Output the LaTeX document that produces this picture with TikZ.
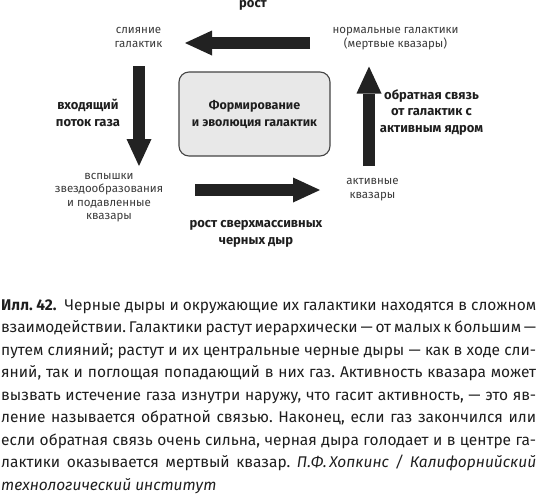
\documentclass[tikz,border=0pt]{standalone}
\usepackage{fontspec}
\setmainfont{Fira Sans}
\usetikzlibrary{arrows.meta}
\definecolor{arrowc}{HTML}{222222}
\definecolor{lab}{HTML}{3A3A3A}
\definecolor{boxfill}{HTML}{E8E8E8}
\definecolor{boxline}{HTML}{444444}
\definecolor{capc}{HTML}{1E1E1E}
\frenchspacing
\begin{document}
\begin{tikzpicture}[x=1pt,y=-1pt,
  small/.style={font=\fontsize{11.5}{14}\selectfont, text=lab, align=center, anchor=base, inner sep=0pt},
  boldlab/.style={font=\fontsize{13}{16.5}\selectfont\bfseries, text=capc, align=center, anchor=base, inner sep=0pt},
  fat/.style={draw=arrowc, line width=12.5pt, -{Triangle[length=27pt,width=25pt,line width=0pt]}},
]
\useasboundingbox (0,0) rectangle (537,496);

% central box
\node[draw=boxline, fill=boxfill, rounded corners=10pt, line width=1.1pt,
      minimum width=151pt, minimum height=84pt, inner sep=0pt,
      font=\fontsize{12.5}{17}\selectfont\bfseries, text=capc, align=center] (box) at (254.5,114)
      {Формирование\\и эволюция галактик};

% labels (base anchor = baseline of the last line)
\node[boldlab] (grow) at (253,7) {рост};
\node[small] (merge) at (138.5,47) {слияние\\галактик};
\node[small] (normal) at (395.5,47) {нормальные галактики\\(мертвые квазары)};
\node[boldlab] (inflow) at (88,126) {входящий\\поток газа};
\node[boldlab] (feedback) at (431.5,132) {обратная связь\\от галактик с\\активным ядром};
\node[small, font=\fontsize{11.5}{13.5}\selectfont] (burst) at (109,219.5) {вспышки\\звездообразования\\и подавленные\\квазары};
\node[small] (active) at (372.5,198) {активные\\квазары};
\node[boldlab] (smbh) at (256,244) {рост сверхмассивных\\черных дыр};

% arrow end points
\coordinate (topTail) at (310,43);
\coordinate (topTip) at (185,43);
\coordinate (leftTail) at (139,66);
\coordinate (leftTip) at (139,166);
\coordinate (botTail) at (195,190);
\coordinate (botTip) at (320,190);
\coordinate (rightTail) at (369,166);
\coordinate (rightTip) at (369,66.5);

\draw[fat] (topTail) -- (topTip);
\draw[fat] (leftTail) -- (leftTip);
\draw[fat] (botTail) -- (botTip);
\draw[fat] (rightTail) -- (rightTip);

% caption
\node[anchor=base west, inner sep=0pt, align=left, font=\fontsize{15.5}{22.5}\selectfont, text=capc] (caption) at (1,490) {%
\makebox[535pt][s]{\textbf{Илл. 42.}\ \ Черные дыры и окружающие их галактики находятся в сложном}\\
\makebox[535pt][s]{взаимодействии. Галактики растут иерархически — от малых к большим —}\\
\makebox[535pt][s]{путем слияний; растут и их центральные черные дыры — как в ходе сли-}\\
\makebox[535pt][s]{яний, так и поглощая попадающий в них газ. Активность квазара может}\\
\makebox[535pt][s]{вызвать истечение газа изнутри наружу, что гасит активность, — это яв-}\\
\makebox[535pt][s]{ление называется обратной связью. Наконец, если газ закончился или}\\
\makebox[535pt][s]{если обратная связь очень сильна, черная дыра голодает и в центре га-}\\
\makebox[535pt][s]{лактики оказывается мертвый квазар. \textit{П.Ф.\,Хопкинс / Калифорнийский}}\\
\textit{технологический институт}};
\end{tikzpicture}
\end{document}
